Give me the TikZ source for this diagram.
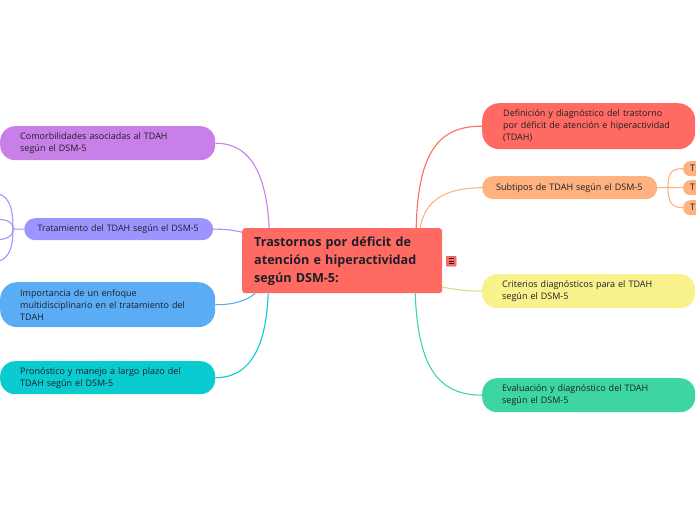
\documentclass[tikz,border=0pt]{standalone}
\usepackage{fontspec}
\setmainfont{Open Sans}
\usetikzlibrary{calc,backgrounds}
\definecolor{cred}{RGB}{255,107,99}
\definecolor{corange}{RGB}{255,178,128}
\definecolor{cyellow}{RGB}{248,241,140}
\definecolor{cgreen}{RGB}{61,214,163}
\definecolor{cpurple}{RGB}{200,128,232}
\definecolor{clav}{RGB}{158,148,255}
\definecolor{cblue}{RGB}{90,173,245}
\definecolor{ccyan}{RGB}{10,203,208}
\definecolor{ctext}{RGB}{30,30,40}
\tikzset{
  topic/.style={anchor=north west, align=left, text=ctext, font=\fontsize{9}{12}\selectfont, inner ysep=0pt},
  link/.style={line width=1.1pt},
}
\begin{document}
\begin{tikzpicture}[x=1pt,y=-1pt]
\useasboundingbox (0,0) rectangle (696,520);
\clip (0,0) rectangle (696,520);
% center
\node[anchor=north west, fill=cred, rounded corners=3pt, minimum height=65pt, inner xsep=12pt, inner ysep=0pt, text width=176pt, align=left, text=ctext, font=\fontsize{12.6}{18}\selectfont\bfseries] (c) at (242,228) {Trastornos por déficit de\\atención e hiperactividad\\según DSM-5:};
% icon
\node[anchor=north west, fill=cred, draw=cred!80!black, line width=0.4pt, rounded corners=1pt, minimum width=10pt, minimum height=10pt, inner sep=0pt] (ic) at (446,256) {};
\draw[ctext, line width=0.7pt] ($(ic.center)+(-2.5,-2.5)$) -- ++(5,0);
\draw[ctext, line width=0.7pt] ($(ic.center)+(-2.5,0)$) -- ++(5,0);
\draw[ctext, line width=0.7pt] ($(ic.center)+(-2.5,2.5)$) -- ++(5,0);
% right topics
\node[topic, fill=cred, rounded corners=17pt, minimum height=46pt, inner xsep=21pt, text width=171pt] (def) at (482,103) {Definición y diagnóstico del trastorno\\por déficit de atención e hiperactividad\\(TDAH)};
\node[topic, fill=corange, rounded corners=11pt, minimum height=23pt, inner xsep=14pt, text width=147pt] (sub) at (482,176) {Subtipos de TDAH según el DSM-5};
\node[topic, fill=cyellow, rounded corners=15pt, minimum height=34pt, inner xsep=20pt, text width=173pt] (cri) at (482,274) {Criterios diagnósticos para el TDAH\\según el DSM-5};
\node[topic, fill=cgreen, rounded corners=15pt, minimum height=34pt, inner xsep=20pt, text width=173pt] (eva) at (482,378) {Evaluación y diagnóstico del TDAH\\según el DSM-5};
% subtopic children
\node[topic, fill=corange, rounded corners=7pt, minimum height=15pt, inner xsep=7pt, text width=40pt] (s1) at (683,161) {T};
\node[topic, fill=corange, rounded corners=7pt, minimum height=15pt, inner xsep=7pt, text width=40pt] (s2) at (683,180) {T};
\node[topic, fill=corange, rounded corners=7pt, minimum height=15pt, inner xsep=7pt, text width=40pt] (s3) at (683,200) {T};
% left topics
\node[topic, fill=cpurple, rounded corners=15pt, minimum height=34pt, inner xsep=20pt, text width=175pt] (com) at (0,126) {Comorbilidades asociadas al TDAH\\según el DSM-5};
\node[topic, fill=clav, rounded corners=11pt, minimum height=22pt, inner xsep=12pt, text width=165pt, font=\fontsize{8.9}{12}\selectfont] (tra) at (24,218) {\hspace*{1.5pt}Tratamiento del TDAH según el DSM-5};
\node[topic, fill=cblue, rounded corners=17pt, minimum height=45pt, inner xsep=20pt, text width=175pt] (imp) at (0,282) {Importancia de un enfoque\\multidisciplinario en el tratamiento del\\TDAH};
\node[topic, fill=ccyan, rounded corners=15pt, minimum height=33pt, inner xsep=20pt, text width=175pt] (pro) at (0,361) {Pronóstico y manejo a largo plazo del\\TDAH según el DSM-5};
% junctions
\coordinate (sj) at (668,187.5);
\coordinate (tj) at (13,229);
\coordinate (t1) at (-8,193);
\coordinate (t2) at (-8,219);
\coordinate (t3) at (-8,240);
\coordinate (t4) at (-8,262);
% connectors
\begin{scope}[on background layer]
\draw[link, cred] ([xshift=74pt]c.north) .. controls (418,150) and (440,126) .. (def.west);
\draw[link, corange] ([xshift=78pt]c.north) .. controls (425,200) and (445,188) .. (sub.west);
\draw[link, cyellow!90!black] ([yshift=-26.5pt]c.east) .. controls (460,290) and (465,291) .. (cri.west);
\draw[link, cgreen] ([xshift=73pt]c.south) .. controls (418,370) and (440,395) .. (eva.west);
\draw[link, cpurple] ([xshift=-73pt]c.north) .. controls (266,165) and (245,143) .. (com.east);
\draw[link, clav] ([yshift=28.5pt]c.west) .. controls (232,230) and (225,229) .. (tra.east);
\draw[link, cblue] ([xshift=-87pt]c.south) .. controls (245,302) and (230,305) .. (imp.east);
\draw[link, ccyan] ([xshift=-74pt]c.south) .. controls (266,355) and (245,378) .. (pro.east);
% subtipos children
\draw[link, corange] (sub.east) -- (sj);
\draw[link, corange] (sj) .. controls (668,172) and (672,168.5) .. (s1.west);
\draw[link, corange] (sj) -- (s2.west);
\draw[link, corange] (sj) .. controls (668,203) and (672,207.5) .. (s3.west);
% tratamiento children
\draw[link, clav] (tra.west) -- (tj);
\draw[link, clav] (tj) .. controls (13,205) and (8,193) .. (t1);
\draw[link, clav] (tj) .. controls (13,222) and (8,219) .. (t2);
\draw[link, clav] (tj) .. controls (13,236) and (8,240) .. (t3);
\draw[link, clav] (tj) .. controls (13,250) and (8,262) .. (t4);
\end{scope}
\end{tikzpicture}
\end{document}
